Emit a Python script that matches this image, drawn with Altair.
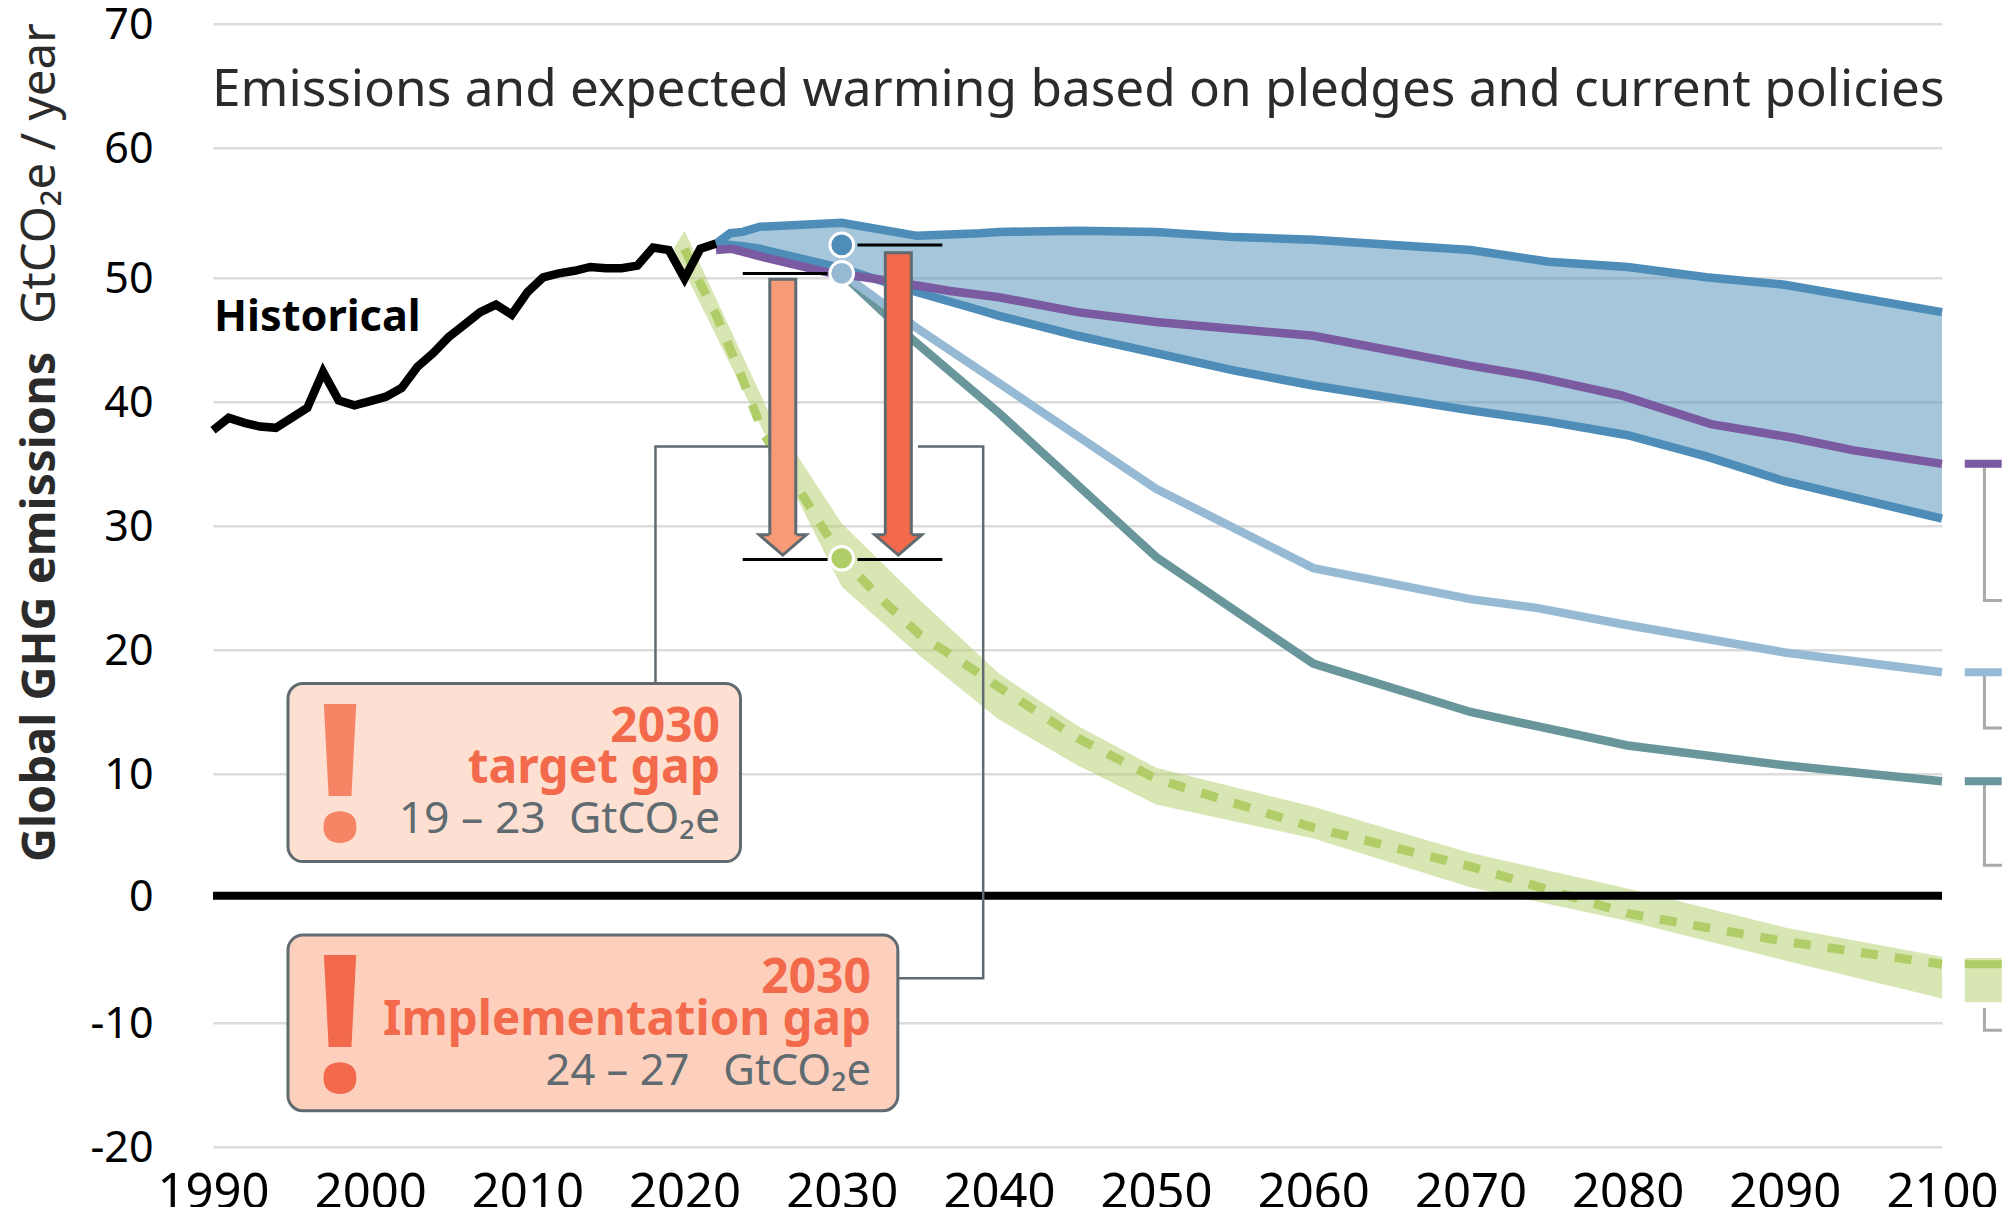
import altair as alt
import pandas as pd

FONT = "Noto Sans"

# scales
y_ticks = [-20, -10, 0, 10, 20, 30, 40, 50, 60, 70]
y_pixels = [1123, 999, 872, 750.3, 626.3, 502.3, 378, 253.6, 124, 0]
x_ticks = [1990, 2000, 2010, 2020, 2030, 2040, 2050, 2060, 2070, 2080, 2090, 2100]

# series
hist_years = list(range(1990, 2023))
hist_vals = [37.7, 38.7, 38.3, 38.0, 37.9, 38.7, 39.5, 42.4, 40.1, 39.7, 40.05, 40.4, 41.1, 42.8, 43.9,
             45.2, 46.2, 47.2, 47.8, 47.0, 48.8, 50.0, 50.3, 50.5, 50.8, 50.7, 50.7, 50.9, 52.3, 52.1,
             49.9, 52.2, 52.6]

blue_years = [2022, 2022.9, 2023.7, 2024.8, 2030, 2034.8, 2038.8, 2040, 2045, 2050, 2055, 2060, 2070, 2075,
              2080, 2085, 2090, 2100]
blue_high = [52.6, 53.4, 53.5, 53.9, 54.2, 53.2, 53.4, 53.5, 53.6, 53.5, 53.1, 52.9, 52.1, 51.2, 50.8, 50.0,
             49.4, 47.2]
blue_low = [52.6, 52.5, 52.4, 52.2, 50.7, 48.8, 47.35, 46.9, 45.3, 43.9, 42.5, 41.3, 39.3, 38.4, 37.3, 35.6,
            33.6, 30.6]

purple_years = [2022, 2023, 2025.2, 2029, 2032, 2035, 2036.9, 2040, 2045, 2050, 2060, 2070, 2074.2, 2079.6,
                2085.3, 2090.5, 2094.3, 2100]
purple_vals = [52.1, 52.2, 51.5, 50.4, 49.9, 49.3, 48.9, 48.4, 47.2, 46.4, 45.3, 42.9, 42.0, 40.5, 38.2,
               37.1, 36.1, 35.0]

light_years = [2030, 2034.8, 2040, 2050, 2060, 2070, 2074.2, 2079.6, 2090, 2100]
light_vals = [50.3, 45.9, 41.5, 33.0, 26.6, 24.1, 23.4, 22.1, 19.8, 18.2]

teal_years = [2030, 2034.5, 2040, 2050, 2060, 2070, 2080, 2090, 2100]
teal_vals = [50.3, 45.0, 39.1, 27.5, 18.9, 15.0, 12.3, 10.7, 9.4]

green_years = [2020, 2021, 2022, 2023.6, 2025, 2027.5, 2030, 2032.6, 2035, 2037.8, 2040, 2045, 2050, 2060,
               2070, 2080, 2090, 2100]
green_vals = [52.2, 49.5, 47.0, 42.1, 37.5, 32.5, 27.4, 24.0, 21.2, 18.9, 17.0, 12.9, 9.6, 5.6, 2.4, -1.4,
              -3.6, -5.4]

band_years = [2019.3, 2020, 2025.3, 2030, 2035, 2040, 2045, 2050, 2060, 2070, 2080, 2090, 2100]
band_high = [52.2, 53.6, 39.3, 30.2, 24.0, 18.1, 13.9, 10.5, 7.3, 3.5, 0.6, -2.5, -4.8]
band_low = [52.2, 50.4, 36.9, 25.1, 19.5, 14.4, 10.7, 7.5, 4.7, 0.7, -2.0, -5.1, -8.1]

# 2030 markers
dot_vals = [52.5, 50.3, 27.4]
dot_colors = ["#4e8db7", "#96bad4", "#b1cd68"]

# gap arrows: year, top, shaft bottom, head centre
arrow_years = [2026.25, 2033.6]
arrow_tops = [49.85, 51.9]
arrow_bottom = 28.9
arrow_head = 28.47
arrow_colors = ["#f69a78", "#f26a4b"]

x_scale = alt.Scale(domain=[1990, 2100], nice=False, zero=False, padding=0)
y_scale = alt.Scale(domain=y_ticks, range=y_pixels, nice=False, zero=False, padding=0)

x_axis = alt.Axis(
    values=x_ticks, format="d", title=None, domain=False, ticks=False, grid=False,
    labelFont=FONT, labelFontSize=49, labelColor="#000000", labelPadding=22, labelFlush=False,
    labelOverlap=False)
y_axis = alt.Axis(
    values=y_ticks, title=None, domain=False, ticks=False, grid=True, gridColor="#dcdcdc", gridWidth=2.5,
    labelFont=FONT, labelFontSize=43, labelColor="#000000", labelPadding=60, labelOverlap=False,
    labelOffset=2, labelExpr="'' + datum.value")


def X(f="x"):
    return alt.X(f, type="quantitative", scale=x_scale, axis=x_axis)


def Y(f="y"):
    return alt.Y(f, type="quantitative", scale=y_scale, axis=y_axis)


def line(xs, ys, color, width=8.5, **kw):
    df = pd.DataFrame({"x": xs, "y": ys, "i": range(len(xs))})
    return alt.Chart(df).mark_line(color=color, strokeWidth=width, strokeJoin="miter",
                                   strokeCap="butt", clip=False, **kw).encode(
        x=X(), y=Y(), order=alt.Order("i:Q"))


def band(xs, hi, lo, color, opacity):
    df = pd.DataFrame({"x": xs, "y": hi, "y2": lo})
    return alt.Chart(df).mark_area(color=color, opacity=opacity).encode(
        x=X(), y=Y(), y2=alt.Y2("y2"))


def text(s, px, py, size, color, bold=False, align="left", angle=0):
    kw = {"angle": angle} if angle else {}
    return alt.Chart(pd.DataFrame({"t": [s]})).mark_text(
        font=FONT, fontSize=size, color=color, fontWeight="bold" if bold else "normal",
        align=align, baseline="alphabetic", **kw
    ).encode(x=alt.value(px - 213), y=alt.value(py - 23.7), text="t:N")


def box(x0, x1, y0, y1, fill):
    df = pd.DataFrame({"x": [x0], "x2": [x1], "y": [y0], "y2": [y1]})
    return alt.Chart(df).mark_rect(fill=fill, stroke="#5f6b70", strokeWidth=3, cornerRadius=15).encode(
        x=X(), x2=alt.X2("x2"), y=Y(), y2=alt.Y2("y2"))


zero = alt.Chart(pd.DataFrame({"y": [0], "x": [1990], "x2": [2100]})).mark_rule(
    color="#000000", strokeWidth=8).encode(x=X(), x2=alt.X2("x2"), y=Y())

hlines = [
    line([2023.7, 2029.1], [50.3, 50.3], "#000000", 3),
    line([2031, 2036.4], [52.5, 52.5], "#000000", 3),
    line([2023.7, 2029.1], [27.3, 27.3], "#000000", 3),
    line([2031, 2036.4], [27.3, 27.3], "#000000", 3),
]

arrows = []
HEAD = "M-0.58,-0.43L-1,-0.43L0,0.43L1,-0.43L0.58,-0.43"
for yr, top, col in zip(arrow_years, arrow_tops, arrow_colors):
    d = pd.DataFrame({"x": [yr], "y": [top], "y2": [arrow_bottom], "h": [arrow_head]})
    arrows.append(alt.Chart(d).mark_bar(width=26, fill=col, stroke="#5f6b70", strokeWidth=3, orient="vertical").encode(
        x=X(), y=Y(), y2=alt.Y2("y2")))
    arrows.append(alt.Chart(d).mark_point(shape=HEAD, size=2209, filled=True, fill=col, stroke="#5f6b70",
                                           strokeWidth=3, opacity=1, strokeJoin="miter").encode(x=X(), y=Y("h")))

dots = alt.Chart(pd.DataFrame({"x": [2030] * 3, "y": dot_vals, "c": dot_colors})).mark_point(
    filled=True, size=560, stroke="#ffffff", strokeWidth=3, opacity=1).encode(
    x=X(), y=Y(), fill=alt.Fill("c:N", scale=None))

leaders = [
    line([2018.15, 2018.15, 2025.3], [17.3, 36.4, 36.4], "#5f6b70", 2.5),
    line([2034.85, 2039, 2039, 2033.6], [36.4, 36.4, -6.5, -6.5], "#5f6b70", 2.5),
]

stubs = [
    line([2102.7, 2102.7, 2103.9], [35, 24, 24], "#aaaaaa", 3),
    line([2102.7, 2102.7, 2103.9], [18.2, 13.7, 13.7], "#aaaaaa", 3),
    line([2102.7, 2102.7, 2103.9], [9.4, 2.5, 2.5], "#aaaaaa", 3),
    line([2102.7, 2102.7, 2103.9], [-8.84, -10.6, -10.6], "#aaaaaa", 3),
    line([2101.45, 2103.8], [35, 35], "#7a5aa0", 8),
    line([2101.45, 2103.8], [18.2, 18.2], "#96bad4", 8),
    line([2101.45, 2103.8], [9.4, 9.4], "#68969b", 8),
    band([2101.45, 2103.8], [-4.9, -4.9], [-8.4, -8.4], "#b1cd68", 0.5),
    line([2101.45, 2103.8], [-5.4, -5.4], "#b1cd68", 8),
]

NB = "\u00a0"
texts = [
    text("Emissions and expected warming based on pledges and current policies", 212, 106, 51.3, "#2b2b2b"),
    text("Historical", 214, 331, 43.2, "#000000", bold=True),
    text("Global GHG emissions", 55, 862, 47, "#2b2b2b", bold=True, angle=270),
    text("GtCO\u2082e / year", 55, 324, 47.5, "#2b2b2b", angle=270),
    text("!", 340, 841, 190, "#f58565", bold=True, align="center"),
    text("2030", 720, 741.7, 48, "#f26a4b", bold=True, align="right"),
    text("target gap", 720, 783, 48, "#f26a4b", bold=True, align="right"),
    text("19 \u2013 23" + NB + NB + "GtCO\u2082e", 720, 833, 44.5, "#5f6b70", align="right"),
    text("!", 340, 1092, 190, "#f26a4b", bold=True, align="center"),
    text("2030", 871, 993.3, 48, "#f26a4b", bold=True, align="right"),
    text("Implementation gap", 871, 1035, 47.5, "#f26a4b", bold=True, align="right"),
    text("24 \u2013 27" + NB + NB + NB + "GtCO\u2082e", 871, 1085, 43.5, "#5f6b70", align="right"),
]

layers = [
    band(band_years, band_high, band_low, "#b1cd68", 0.5),
    line(green_years, green_vals, "#b1cd68", 9, strokeDash=[17, 17]),
    band(blue_years, blue_high, blue_low, "#4e8db7", 0.5),
    line(teal_years, teal_vals, "#68969b"),
    line(light_years, light_vals, "#96bad4"),
    line(blue_years, blue_high, "#4e8db7"),
    line(blue_years, blue_low, "#4e8db7"),
    line(purple_years, purple_vals, "#7a5aa0"),
    zero,
    line(hist_years, hist_vals, "#000000"),
    *hlines,
    *leaders,
    *arrows,
    dots,
    box(1994.77, 2023.56, 17.3, 2.8, "#fde0d2"),
    box(1994.77, 2033.57, -3.1, -17.1, "#fcd0bd"),
    *stubs,
    *texts,
]

chart = alt.layer(*layers).properties(
    width=1729, height=1123,
    autosize=alt.AutoSizeParams(type="none"),
    padding={"left": 205, "top": 15.7, "right": 60, "bottom": 60},
    background="#ffffff",
).configure_view(stroke=None)

chart.save("out.html", embed_options={"renderer": "svg", "actions": False})
